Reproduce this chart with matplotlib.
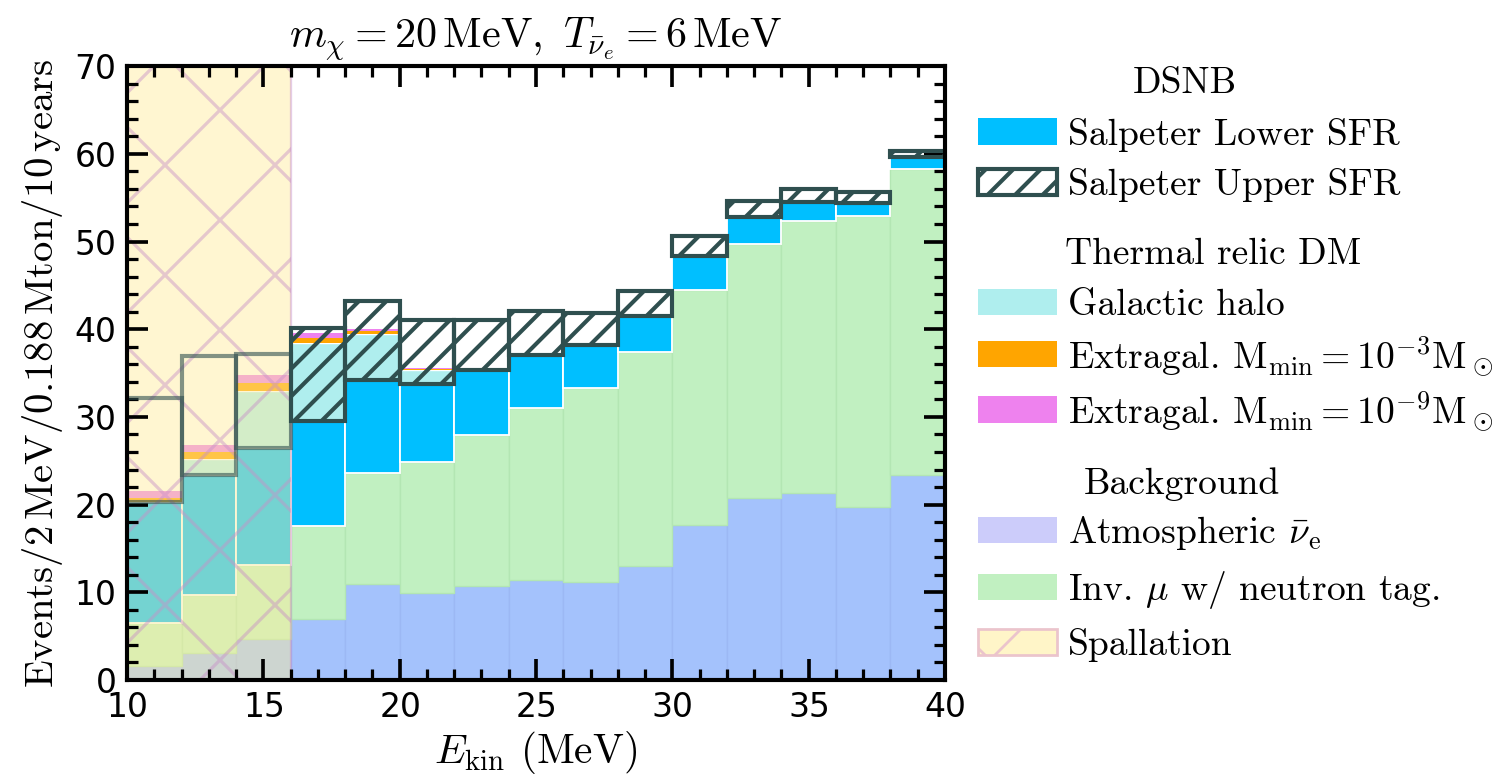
import numpy as np
import matplotlib
matplotlib.use("Agg")
import matplotlib.pyplot as plt
from matplotlib.patches import Patch

plt.rcParams["font.family"] = "serif"
plt.rcParams["font.serif"] = ["cmr10"]
plt.rcParams["mathtext.fontset"] = "cm"
plt.rcParams["axes.formatter.use_mathtext"] = True
plt.rcParams["hatch.linewidth"] = 0.9

# 2 MeV bins from 10 to 40 MeV
bin_edges = np.arange(10, 42, 2)

# events per bin, one array per stacked component
atm = [1.6, 3.1, 4.7, 7.0, 10.9, 9.9, 10.7, 11.35, 11.15, 12.95, 17.7, 20.8, 21.3, 19.75, 23.4]
inv_mu = [4.9, 6.6, 8.4, 10.6, 12.7, 15.0, 17.25, 19.65, 22.15, 24.45, 26.8, 28.9, 31.0, 33.15, 34.9]
dsnb_lower = [13.8, 13.7, 13.4, 11.9, 10.6, 8.8, 7.45, 6.1, 4.9, 4.1, 3.8, 3.1, 2.2, 1.5, 1.3]
dsnb_upper_extra = [11.9, 13.5, 10.7, 10.6, 9.0, 7.3, 5.7, 5.0, 3.6, 2.85, 2.3, 1.8, 1.5, 1.3, 0.7]
dm_halo = [0.0, 1.8, 6.5, 8.9, 5.3, 1.7, 0.0, 0.0, 0.0, 0.0, 0.0, 0.0, 0.0, 0.0, 0.0]
dm_extragal_3 = [0.5, 0.8, 0.9, 0.55, 0.3, 0.1, 0.0, 0.0, 0.0, 0.0, 0.0, 0.0, 0.0, 0.0, 0.0]
dm_extragal_9 = [0.7, 0.8, 0.9, 0.65, 0.2, 0.05, 0.0, 0.0, 0.0, 0.0, 0.0, 0.0, 0.0, 0.0, 0.0]

spallation_range = (10, 16)

left = bin_edges[:-1]
width = np.diff(bin_edges)

fig = plt.figure(figsize=(1494 / 330, 778 / 330), dpi=330)
ax = fig.add_axes([0.085, 0.126, 0.5475, 0.789])

# stack the background, DSNB and DM layers
bottom = np.zeros(len(left))
ax.bar(left, atm, width, bottom=bottom, align="edge", color="#a4c2fc", edgecolor="#9cb8f4", lw=0.3)
bottom += atm
ax.bar(left, inv_mu, width, bottom=bottom, align="edge", color="#c1f0c1", edgecolor="#b3e6b3", lw=0.3)
bottom += inv_mu
ax.bar(left, dsnb_lower, width, bottom=bottom, align="edge", color="#00bfff", edgecolor="white", lw=0.4)
bottom += dsnb_lower
box_bottom = bottom.copy()
ax.bar(left, dm_halo, width, bottom=bottom, align="edge", color="#afeeee", edgecolor="white", lw=0.3)
bottom += dm_halo
ax.bar(left, dm_extragal_3, width, bottom=bottom, align="edge", color="#ffa500", lw=0)
bottom += dm_extragal_3
ax.bar(left, dm_extragal_9, width, bottom=bottom, align="edge", color="#ee82ee", lw=0)

# spallation region (over the filled layers)
span = ax.axvspan(*spallation_range, facecolor="#ffec9c", edgecolor="#c890c8", hatch="x",
                  alpha=0.46, lw=0.5, zorder=1.5)
if hasattr(span, "set_hatch_linewidth"):
    span.set_hatch_linewidth(0.7)

# upper SFR excess: hatched boxes, plain faded outlines inside the spallation region
in_spall = left < spallation_range[1]
up = np.array(dsnb_upper_extra)
ax.bar(left[~in_spall], up[~in_spall], width[~in_spall], bottom=box_bottom[~in_spall], align="edge",
       facecolor="none", edgecolor="#2f4f4f", hatch="////", lw=0.9, zorder=2)
ax.bar(left[in_spall], up[in_spall], width[in_spall], bottom=box_bottom[in_spall], align="edge",
       facecolor="none", edgecolor="#2f4f4f", lw=0.9, alpha=0.6, zorder=2)

ax.set_xlim(10, 40)
ax.set_ylim(0, 70)
ax.set_xticks([10, 15, 20, 25, 30, 35, 40])
ax.set_yticks(np.arange(0, 80, 10))
ax.set_xticks(np.arange(10, 41, 1), minor=True)
ax.set_yticks(np.arange(0, 71, 2), minor=True)
ax.tick_params(which="both", direction="in", top=True, right=True, labelsize=7.2,
               labelfontfamily="DejaVu Sans")
ax.tick_params(which="major", length=4.6, width=0.8, pad=2.5)
ax.tick_params(which="minor", length=2.3, width=0.7)
for sp in ax.spines.values():
    sp.set_linewidth(0.9)
    sp.set_zorder(3)

ax.set_xlabel(r"$E_{\rm kin}$ (MeV)", fontsize=9, labelpad=1)
ax.set_ylabel(r"$\mathrm{Events/2\,MeV/0.188\,Mton/10\,years}$", fontsize=8.9, labelpad=2)
ax.set_title(r"$m_\chi = 20\,\mathrm{MeV},\ T_{\bar{\nu}_e} = 6\,\mathrm{MeV}$", fontsize=9.2, pad=4)

# legend: three groups with their headers
leg_fs = 8.2
leg_x = 978 / 1494
leg_kw = dict(frameon=False, fontsize=leg_fs, borderpad=0, borderaxespad=0, handlelength=2.1,
              handletextpad=0.3, loc="center left", bbox_transform=fig.transFigure)

fig.text(1133 / 1494, 1 - 83 / 778, "DSNB", fontsize=leg_fs, va="center")
leg1 = fig.legend(
    [Patch(facecolor="#00bfff"), Patch(facecolor="white", edgecolor="#2f4f4f", hatch="////", lw=0.9)],
    ["Salpeter Lower SFR", "Salpeter Upper SFR"],
    bbox_to_anchor=(leg_x, 1 - 160 / 778), labelspacing=0.45, **leg_kw)

fig.text(1065 / 1494, 1 - 254 / 778, "Thermal relic DM", fontsize=leg_fs, va="center")
leg2 = fig.legend(
    [Patch(facecolor="#afeeee"), Patch(facecolor="#ffa500"), Patch(facecolor="#ee82ee")],
    ["Galactic halo",
     r"Extragal. $\mathrm{M_{min}} = 10^{-3}\mathrm{M}_\odot$",
     r"Extragal. $\mathrm{M_{min}} = 10^{-9}\mathrm{M}_\odot$"],
    bbox_to_anchor=(leg_x, 1 - 361 / 778), labelspacing=0.3, **leg_kw)

fig.text(1084 / 1494, 1 - 484 / 778, "Background", fontsize=leg_fs, va="center")
spall_handle = Patch(facecolor="#fff5c8", edgecolor="#ebc4cc", hatch="x", lw=0.6)
leg3 = fig.legend(
    [Patch(facecolor="#ccccfa"), Patch(facecolor="#c1f0c1"), spall_handle],
    [r"Atmospheric $\bar{\nu}_\mathrm{e}$", r"Inv. $\mu$ w/ neutron tag.", "Spallation"],
    bbox_to_anchor=(leg_x, 1 - 588 / 778), labelspacing=0.45, **leg_kw)
for h in leg3.legend_handles[2:]:
    if hasattr(h, "set_hatch_linewidth"):
        h.set_hatch_linewidth(0.6)

fig.savefig("out.png", dpi=330)
